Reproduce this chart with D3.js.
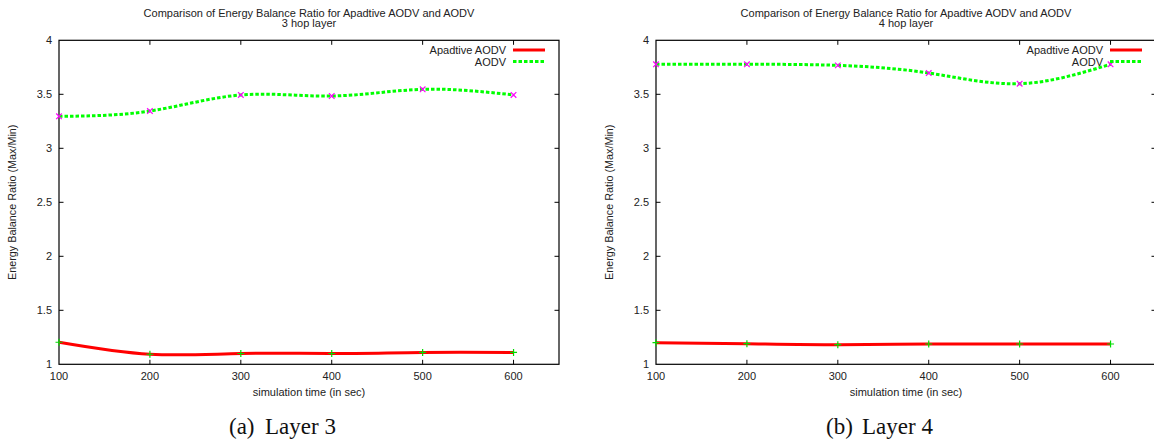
<!DOCTYPE html>
<html><head><meta charset="utf-8">
<script src="https://cdn.jsdelivr.net/npm/d3@7"></script>
<style>
html,body{margin:0;padding:0;background:#fff;}
svg{display:block;}
text{font-family:"Liberation Sans",Arial,sans-serif;fill:#222;}
</style></head>
<body>
<svg id="c" width="1154" height="445"></svg>
<script>
const times = [100, 200, 300, 400, 500, 600];
const xTicks = [100, 200, 300, 400, 500, 600];
const yTicks = [1, 1.5, 2, 2.5, 3, 3.5, 4];
const seriesNames = ["Apadtive AODV", "AODV"];
const layer3Adaptive = [1.204, 1.093, 1.100, 1.100, 1.110, 1.110];
const layer3Aodv = [3.296, 3.345, 3.494, 3.484, 3.546, 3.494];
const layer4Adaptive = [1.200, 1.191, 1.182, 1.188, 1.188, 1.188];
const layer4Aodv = [3.778, 3.778, 3.768, 3.697, 3.598, 3.778];
const titleLine1 = "Comparison of Energy Balance Ratio for Apadtive AODV and AODV";
const subtitles = ["3 hop layer", "4 hop layer"];
const captionTags = ["(a)", "(b)"];
const captionTexts = ["Layer 3", "Layer 4"];
const xLabel = "simulation time (in sec)";
const yLabel = "Energy Balance Ratio (Max/Min)";

const svg = d3.select("#c");

function drawChart(left, adaptive, aodv, subtitle, tag, capText) {
  const W = 500, top = 40.3, bottom = 364.3;
  const g = svg.append("g");
  const x = d3.scaleLinear().domain([100, 650]).range([left, left + W]);
  const y = d3.scaleLinear().domain([1, 4]).range([bottom, top]);
  const tl = 4.5;

  g.append("rect").attr("x", left).attr("y", top).attr("width", W).attr("height", bottom - top)
    .attr("fill", "none").attr("stroke", "#000").attr("stroke-width", 1.2);

  yTicks.forEach(v => {
    if (v > 1 && v < 4) {
      g.append("line").attr("x1", left).attr("x2", left + tl).attr("y1", y(v)).attr("y2", y(v)).attr("stroke", "#000");
      g.append("line").attr("x1", left + W).attr("x2", left + W - tl).attr("y1", y(v)).attr("y2", y(v)).attr("stroke", "#000");
    }
    g.append("text").attr("x", left - 7).attr("y", y(v) + 4).attr("text-anchor", "end")
      .attr("font-size", 11).text(d3.format("")(v));
  });
  xTicks.forEach(v => {
    if (v > 100) {
      g.append("line").attr("x1", x(v)).attr("x2", x(v)).attr("y1", bottom).attr("y2", bottom - tl).attr("stroke", "#000");
      g.append("line").attr("x1", x(v)).attr("x2", x(v)).attr("y1", top).attr("y2", top + tl).attr("stroke", "#000");
    }
    g.append("text").attr("x", x(v)).attr("y", 380).attr("text-anchor", "middle")
      .attr("font-size", 11).text(v);
  });

  const cx = left + W / 2;
  g.append("text").attr("x", cx).attr("y", 17).attr("text-anchor", "middle").attr("font-size", 11).text(titleLine1);
  g.append("text").attr("x", cx).attr("y", 27).attr("text-anchor", "middle").attr("font-size", 11).text(subtitle);
  g.append("text").attr("x", cx).attr("y", 396).attr("text-anchor", "middle").attr("font-size", 11).text(xLabel);
  g.append("text").attr("transform", `translate(${left - 43},${(top + bottom) / 2}) rotate(-90)`)
    .attr("text-anchor", "middle").attr("font-size", 10.8).text(yLabel);

  const line = d3.line().x((d, i) => x(times[i])).y(d => y(d)).curve(d3.curveNatural);
  g.append("path").attr("d", line(adaptive)).attr("fill", "none").attr("stroke", "#ff0000").attr("stroke-width", 3);
  g.append("path").attr("d", line(aodv)).attr("fill", "none").attr("stroke", "#00ff00")
    .attr("stroke-width", 3).attr("stroke-dasharray", "3.5,2");

  adaptive.forEach((v, i) => {
    const px = x(times[i]), py = y(v), s = 3.5;
    g.append("path").attr("d", `M${px - s},${py}H${px + s}M${px},${py - s}V${py + s}`)
      .attr("stroke", "#00dd00").attr("stroke-width", 1.2);
  });
  aodv.forEach((v, i) => {
    const px = x(times[i]), py = y(v), s = 2.8;
    g.append("path").attr("d", `M${px - s},${py - s}L${px + s},${py + s}M${px - s},${py + s}L${px + s},${py - s}`)
      .attr("stroke", "#ff00ff").attr("stroke-width", 1.2);
  });

  const lx2 = left + W - 14, lx1 = lx2 - 32, tx = lx1 - 7;
  [[50, "#ff0000", null], [61.5, "#00ff00", "3.5,2"]].forEach((r, i) => {
    g.append("text").attr("x", tx).attr("y", r[0] + 4).attr("text-anchor", "end").attr("font-size", 11).text(seriesNames[i]);
    const l = g.append("line").attr("x1", lx1).attr("x2", lx2).attr("y1", r[0]).attr("y2", r[0])
      .attr("stroke", r[1]).attr("stroke-width", 3);
    if (r[2]) l.attr("stroke-dasharray", r[2]);
  });

  const serif = "'Liberation Serif','Times New Roman',serif";
  svg.append("text").attr("x", left + 170).attr("y", 434)
    .style("font-family", serif).attr("font-size", 23).style("fill", "#111").text(tag);
  svg.append("text").attr("x", left + 206).attr("y", 434)
    .style("font-family", serif).attr("font-size", 23).style("fill", "#111").text(capText);
}

drawChart(59, layer3Adaptive, layer3Aodv, subtitles[0], captionTags[0], captionTexts[0]);
drawChart(656, layer4Adaptive, layer4Aodv, subtitles[1], captionTags[1], captionTexts[1]);
</script>
</body></html>
